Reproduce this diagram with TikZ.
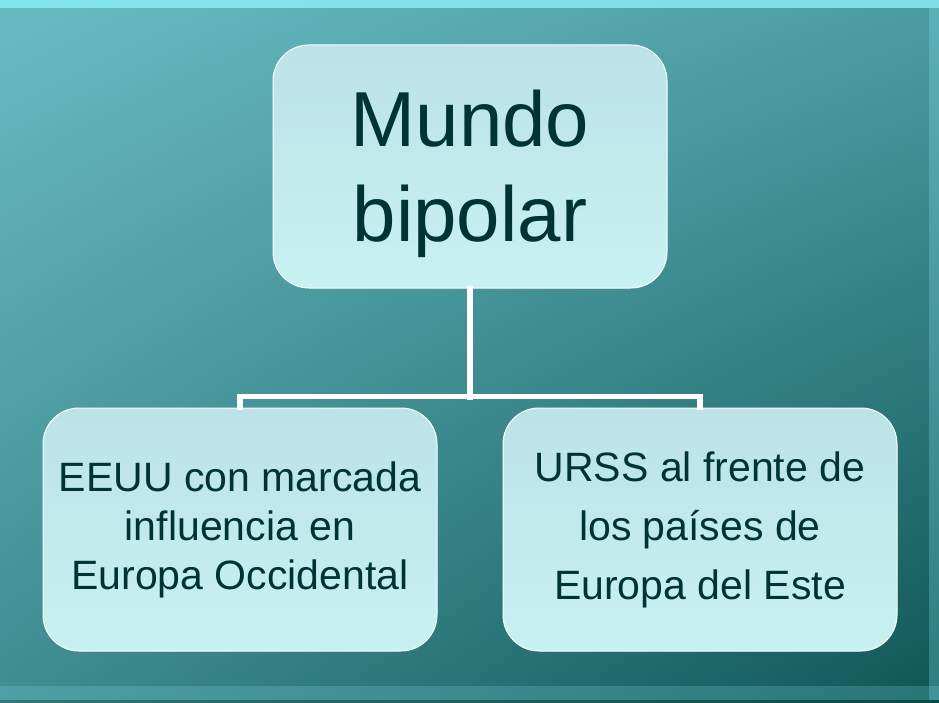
\documentclass[tikz,border=0pt]{standalone}
\usepackage{fontspec}
\setmainfont{Liberation Sans}
\usetikzlibrary{shadings}
\definecolor{inkteal}{HTML}{003333}
\definecolor{boxtop}{HTML}{BBE3E8}
\definecolor{boxbottom}{HTML}{C8F1F2}
\definecolor{bgtl}{HTML}{68BCC3}
\definecolor{bgtr}{HTML}{4C9DA3}
\definecolor{bgbl}{HTML}{3F8C91}
\definecolor{bgbr}{HTML}{0F5656}
\definecolor{rimcyan}{HTML}{8CEFF7}

\begin{document}
\begin{tikzpicture}[x=1pt, y=-1pt,
  every node/.style = {shape=rectangle, rounded corners=36pt,
    draw=white, line width=1pt, align=center, text=inkteal,
    top color=boxtop, bottom color=boxbottom,
    minimum width=394pt, minimum height=243pt, inner sep=0pt},
  rootbox/.style = {font=\fontsize{78}{95}\selectfont},
  leafbox/.style = {font=\fontsize{41}{49}\selectfont},
  link/.style = {draw=white, line width=5.5pt, line cap=rect}]
  \useasboundingbox (0,0) rectangle (939,703);
  % background and frame
  \shade[upper left=bgtl, upper right=bgtr, lower left=bgbl, lower right=bgbr]
    (0,0) rectangle (939,703);
  \fill[rimcyan, opacity=0.8] (0,0) rectangle (939,8);
  \fill[rimcyan, opacity=0.2] (0,686) rectangle (939,700);
  \fill[black, opacity=0.15] (0,700) rectangle (939,703);
  \fill[rimcyan, opacity=0.25] (929,8) rectangle (939,700);
  % boxes
  \node[rootbox] (root) at (470,166.5) {\rule{0pt}{71pt}Mundo\\bipolar};
  \node[leafbox] (west) at (240,529.5) {EEUU con marcada\\influencia en\\Europa Occidental};
  \node[leafbox, font=\fontsize{41}{59}\selectfont] (east) at (700,529.5)
    {URSS al frente de\\los países de\\Europa del Este};
  % connectors
  \coordinate (bar) at (470,397);
  \draw[link] (root.south) -- (bar);
  \draw[link] (west.north) -- ++(0,-11) -| (east.north);
\end{tikzpicture}
\end{document}
